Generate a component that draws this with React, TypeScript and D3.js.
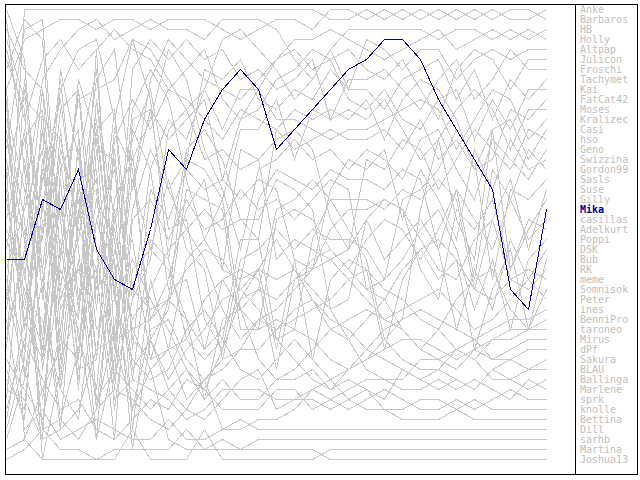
import React from "react";
import * as d3 from "d3";

const players = ["Anke","Barbaros","HB","Holly","Altpap","Julicon","Froschi","Tachymet","Kai","FatCat42","Moses","Kralizec","Casi","hso","Geno","Swizzina","Gordon99","Sasls","Suse","Gilly","Mika","casillas","Adelkurt","Poppi","DSK","Bub","RK","meme","Somnisok","Peter","ines","BenniPro","taroneo","Mirus","dPf","Sakura","BLAU","Ballinga","Marlene","sprk","knolle","Bettina","Dill","sarhb","Martina","Joshua13"];

const highlighted = "Mika";

// rank per round (round 0..30)
const anke = [9,4,3,2,2,3,2,2, 3,2,2,2,3,4,3,2, 2,3,1,1,2,1,2,1, 2,1,2,1,2,2,1];
const barbaros = [30,1,1,1,1,1,1,1, 1,1,1,1,1,1,1,1, 1,1,2,2,1,2,1,2, 1,2,1,2,1,1,2];
const hb = [40,20,8,5,3,2,4,3, 2,3,3,4,2,2,2,3, 6,8,5,3,3,3,3,3, 4,3,3,4,3,4,3];
const holly = [5,12,6,4,7,5,3,5, 6,9,7,5,10,12,9,6, 4,4,3,4,5,6,5,4, 3,5,4,3,4,3,4];
const altpap = [35,8,24,9,5,4,12,4, 5,8,11,9,4,3,5,7, 10,8,5,9,4,5,7,5, 5,8,6,5,6,5,5];
const julicon = [2,17,34,15,22,8,5,19, 8,4,6,8,9,10,8,6, 5,7,6,5,7,8,6,9, 12,7,5,6,9,6,6];
const froschi = [20,31,18,10,24,12,30,7, 4,6,4,6,5,8,7,9, 8,6,12,8,8,7,9,11, 8,6,10,8,5,7,7];
const tachymet = [44,38,28,20,36,10,22,14, 9,19,16,7,8,6,10,11, 9,10,7,9,9,11,8,7, 6,10,7,12,8,10,8];
const kai = [15,3,2,26,8,14,38,12, 11,14,12,10,18,12,11,8, 7,5,6,10,11,9,12,13, 10,9,14,10,13,9,9];
const fatcat42 = [25,13,37,25,20,36,14,10, 13,9,10,12,14,11,12,13, 11,12,11,12,10,14,10,8, 9,12,17,16,11,12,10];
const moses = [1,6,30,7,16,7,29,11, 7,10,18,24,20,13,13,10, 16,11,12,11,12,10,13,16, 14,11,9,11,15,11,11];
const kralizec = [33,26,13,38,22,18,35,13, 17,12,14,9,13,9,9,12, 12,13,14,13,13,12,11,10, 11,15,12,9,10,14,12];
const casi = [10,38,23,16,31,20,24,38, 24,26,15,13,16,22,24,13, 15,14,13,14,14,13,15,12, 16,14,17,13,12,16,13];
const hso = [38,41,22,24,38,22,17,30, 26,13,11,16,15,17,16,14, 13,15,22,25,16,17,14,15, 19,16,13,15,17,13,14];
const geno = [7,2,4,29,15,36,20,16, 12,5,8,15,19,25,17,16, 14,16,15,17,15,16,18,14, 13,17,20,14,16,18,15];
const swizzina = [28,35,16,30,24,13,11,35, 19,22,17,19,18,20,18,19, 26,27,19,16,17,15,22,17, 20,24,15,19,14,17,16];
const gordon99 = [18,9,27,11,9,31,13,17, 32,28,21,18,27,28,20,17, 18,19,17,18,18,19,17,18, 25,19,28,17,20,15,17];
const sasls = [42,32,36,13,30,27,44,22, 20,24,20,23,22,19,21,20, 22,20,18,19,29,28,20,19, 17,13,16,28,19,20,18];
const suse = [14,24,40,27,32,10,27,24, 36,30,16,17,20,31,29,21, 20,18,20,20,20,21,19,20, 18,20,29,22,18,25,19];
const gilly = [22,14,11,33,18,17,39,21, 15,19,23,21,23,22,22,18, 19,21,31,30,22,20,21,27, 30,21,23,20,27,23,20];
const mika = [26,26,20,21,17,25,28,29, 23,15,17,12,9,7,9,15, 13,11,9,7,6,4,4,6, 10,13,16,19,29,31,21];
const casillas = [45,44,39,35,14,29,26,45, 34,31,19,20,21,33,33,22, 21,22,25,27,24,22,23,26, 23,19,22,25,20,24,22];
const adelkurt = [3,7,9,22,10,9,8,4, 10,26,34,36,34,24,24,34, 33,24,20,23,26,34,32,21, 14,22,26,13,27,22,23];
const poppi = [27,21,15,39,26,44,22,19, 11,23,22,32,35,26,25,23, 25,23,24,24,25,28,26,23, 21,25,31,26,33,26,24];
const dsk = [16,28,13,22,39,15,16,43, 28,35,26,24,27,15,16,26, 24,25,26,25,22,26,24,22, 25,33,27,31,24,28,25];
const bub = [31,16,29,43,21,19,41,27, 25,18,25,27,36,28,27,35, 26,36,28,26,27,35,28,25, 28,26,35,29,25,33,26];
const rk = [6,11,36,26,9,25,38,30, 17,29,28,35,28,27,28,37, 28,27,23,21,21,20,21,24, 27,28,24,22,28,29,27];
const meme = [37,42,20,34,36,13,30,26, 30,33,37,39,35,30,27,28, 27,30,33,34,32,30,27,25, 24,26,29,30,28,27,28];
const somnisok = [9,33,21,8,25,41,33,18, 25,27,32,35,33,30,29,30, 28,26,25,27,29,30,33,35, 33,30,28,27,31,33,29];
const peter = [23,27,43,17,13,41,25,32, 29,25,23,26,31,34,32,31, 29,27,26,28,30,32,31,30, 29,31,33,32,30,28,30];
const ines = [34,25,9,31,27,28,11,29, 31,30,32,40,32,31,33,32, 33,34,36,37,35,33,32,31, 32,33,34,33,32,32,31];
const bennipro = [11,19,27,42,35,22,29,41, 33,32,36,38,37,35,32,33, 32,31,30,28,27,29,30,32, 33,35,36,34,33,33,32];
const taroneo = [43,36,11,36,31,5,34,33, 32,30,27,25,26,29,31,34, 36,38,39,37,36,35,34,34, 35,36,35,34,34,33,33];
const mirus = [19,33,17,29,33,44,36,15, 34,39,41,38,36,35,35,33, 31,30,32,33,35,36,37,38, 37,35,34,36,35,34,34];
const dpf = [29,37,44,18,37,36,15,34, 36,35,34,30,28,31,36,38, 37,35,33,32,31,32,33,35, 36,37,35,36,36,35,35];
const sakura = [12,22,46,37,18,33,30,36, 38,37,33,31,34,37,38,36, 34,36,38,37,36,34,36,37, 37,38,39,37,36,37,36];
const blau = [24,29,35,20,34,39,21,37, 34,38,35,33,30,29,27,24, 27,29,31,34,37,38,38,36, 36,35,36,38,38,37,37];
const ballinga = [36,39,42,33,19,40,37,39, 41,39,37,40,38,40,40,38, 38,37,39,38,39,40,37,38, 39,38,39,37,38,39,38];
const marlene = [13,30,32,39,42,28,40,38, 39,40,42,41,39,39,39,40, 40,39,40,39,38,38,39,39, 38,39,38,39,40,38,39];
const sprk = [41,34,38,41,40,43,44,42, 40,41,38,39,41,41,41,39, 39,41,40,41,40,39,40,41, 41,40,41,40,39,40,40];
const knolle = [21,23,43,42,44,41,39,40, 42,43,41,42,40,38,37,41, 40,40,41,40,41,41,41,40, 40,41,40,41,41,41,41];
const bettina = [39,40,44,43,41,35,34,41, 37,35,40,38,43,43,42,42, 41,39,38,40,39,41,42,42, 42,41,42,42,42,42,42];
const dill = [32,43,41,44,43,42,43,44, 44,42,44,44,43,42,43,43, 43,43,43,43,43,43,43,43, 43,43,43,43,43,43,43];
const sarhb = [46,45,43,45,45,46,45,45, 45,45,43,45,45,45,44,44, 44,44,44,44,44,44,44,44, 44,44,44,44,44,44,44];
const martina = [17,44,46,46,46,46,46,43, 46,46,46,43,46,46,46,46, 46,46,45,45,45,45,45,45, 45,45,45,45,45,45,45];
const joshua13 = [4,10,12,14,23,27,23,33, 37,44,45,45,44,45,45,45, 45,45,46,46,46,46,46,46, 46,46,46,46,46,46,46];

const series = [anke,barbaros,hb,holly,altpap,julicon,froschi,tachymet,kai,fatcat42,moses,kralizec,casi,hso,geno,swizzina,gordon99,sasls,suse,gilly,mika,casillas,adelkurt,poppi,dsk,bub,rk,meme,somnisok,peter,ines,bennipro,taroneo,mirus,dpf,sakura,blau,ballinga,marlene,sprk,knolle,bettina,dill,sarhb,martina,joshua13];

const W = 640;
const H = 480;

export default function App() {
  const nRounds = series[0].length;
  const x = d3.scaleLinear().domain([0, nRounds - 1]).range([6.5, 546.5]);
  const y = d3.scaleLinear().domain([1, players.length]).range([9.5, 459.5]);
  const line = d3.line<number>().x((_, i) => x(i)).y((d) => y(d));
  const hiIdx = players.indexOf(highlighted);
  const order = players.map((_, i) => i).filter((i) => i !== hiIdx).concat([hiIdx]);
  return (
    <svg width={W} height={H} style={{ position: "absolute", left: 0, top: 0, background: "#fff" }}>
      <rect x={0} y={0} width={W} height={H} fill="#fff" />
      <g>
        {order.map((i) => (
          <path
            key={players[i]}
            d={line(series[i]) || ""}
            fill="none"
            stroke={i === hiIdx ? "#000099" : "#c8c8c8"}
            strokeWidth={1}
            shapeRendering="crispEdges"
          />
        ))}
      </g>
      <rect x={5.5} y={4.5} width={570} height={470} fill="none" stroke="#000" strokeWidth={1} shapeRendering="crispEdges" />
      <rect x={575.5} y={4.5} width={62} height={470} fill="none" stroke="#000" strokeWidth={1} shapeRendering="crispEdges" />
      <g fontFamily="'DejaVu Sans Mono', monospace" fontSize={10}>
        {players.map((p, i) => {
          const final = series[i][nRounds - 1];
          return (
            <text
              key={p}
              x={580}
              y={y(final) + 3}
              fill={i === hiIdx ? "#000099" : "#c0c0c0"}
              fontWeight={i === hiIdx ? "bold" : "normal"}
            >
              {p}
            </text>
          );
        })}
      </g>
    </svg>
  );
}
